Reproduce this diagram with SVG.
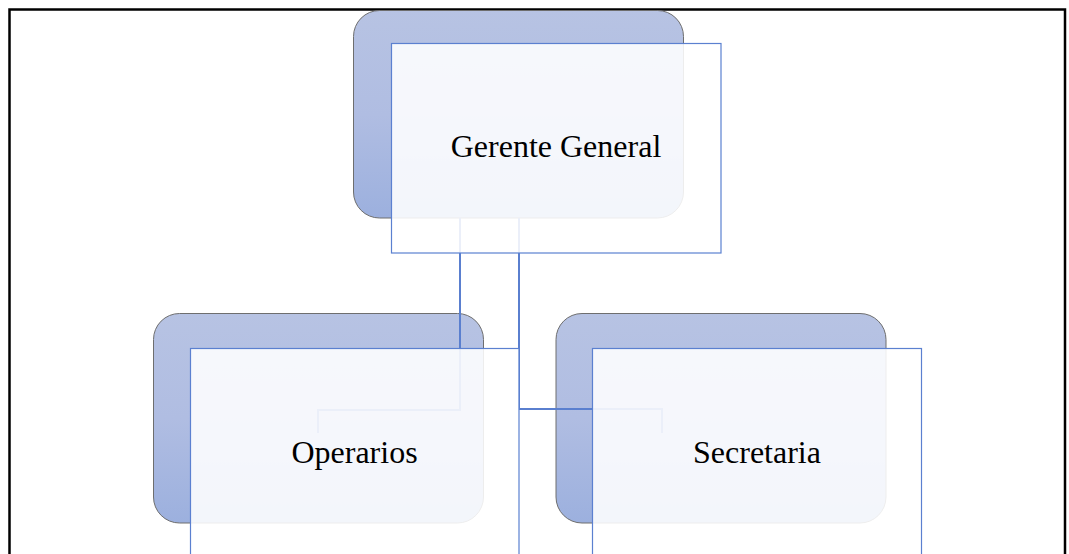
<svg xmlns="http://www.w3.org/2000/svg" width="1069" height="554" viewBox="0 0 1069 554">
  <defs>
    <linearGradient id="backGrad" x1="0" y1="0" x2="0" y2="1">
      <stop offset="0" stop-color="#b7c3e3"/>
      <stop offset="0.5" stop-color="#b0bde2"/>
      <stop offset="1" stop-color="#9cb0de"/>
    </linearGradient>
    <style>
      .back { fill: url(#backGrad); stroke: #6e6e6e; stroke-width: 1; }
      .front { fill: #ffffff; fill-opacity: 0.88; stroke: #5b80d0; stroke-width: 1.2; }
      .conn { fill: none; stroke: #5a7fcf; stroke-width: 2; }
      .label { font-family: "Liberation Serif", "Times New Roman", serif; font-size: 32px; fill: #000000; text-anchor: middle; }
      .frame { fill: none; stroke: #000000; stroke-width: 2.5; }
    </style>
  </defs>
  <rect x="0" y="0" width="1069" height="554" fill="#ffffff"/>
  <rect class="frame" x="9.5" y="9.5" width="1055.5" height="600"/>

  <g id="back-shapes">
    <rect class="back" x="353.5" y="10.5" width="330" height="207.5" rx="26"/>
    <rect class="back" x="153.5" y="313.5" width="330" height="209.5" rx="26"/>
    <rect class="back" x="556" y="313.5" width="330" height="209.5" rx="26"/>
  </g>

  <g id="connectors">
    <path class="conn" d="M460 218 V410 H318 V433"/>
    <path class="conn" d="M519 218 V409 H662 V433"/>
  </g>

  <g id="node-gerente">
    <rect class="front" x="391.5" y="43.5" width="329.5" height="209.5"/>
    <text class="label" x="556" y="157">Gerente General</text>
  </g>
  <g id="node-operarios">
    <rect class="front" x="190.5" y="348.5" width="328.5" height="212"/>
    <text class="label" x="354.5" y="463">Operarios</text>
  </g>
  <g id="node-secretaria">
    <rect class="front" x="592.5" y="348.5" width="329" height="212"/>
    <text class="label" x="757" y="463">Secretaria</text>
  </g>
</svg>
